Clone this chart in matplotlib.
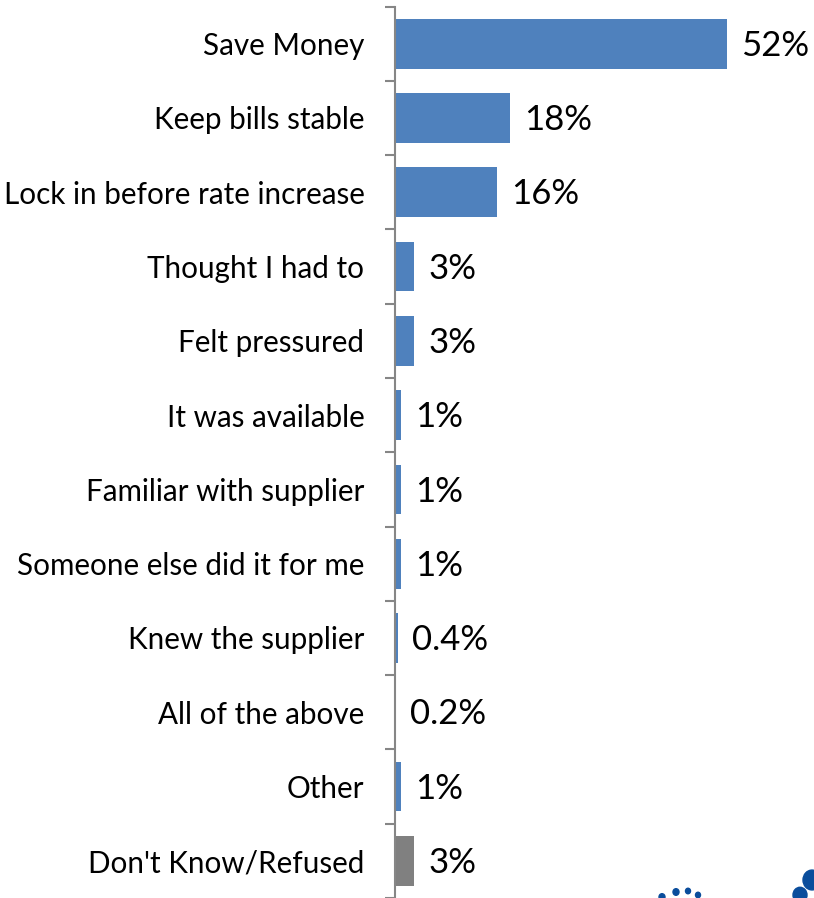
import numpy as np
import matplotlib
matplotlib.use("Agg")
import matplotlib.pyplot as plt
from matplotlib.patches import Circle

categories = [
    "Save Money",
    "Keep bills stable",
    "Lock in before rate increase",
    "Thought I had to",
    "Felt pressured",
    "It was available",
    "Familiar with supplier",
    "Someone else did it for me",
    "Knew the supplier",
    "All of the above",
    "Other",
    "Don't Know/Refused",
]
values = [52, 18, 16, 3, 3, 1, 1, 1, 0.4, 0.2, 1, 3]
labels = ["52%", "18%", "16%", "3%", "3%", "1%", "1%", "1%", "0.4%", "0.2%", "1%", "3%"]
colors = ["#4F81BD"] * 11 + ["#808080"]

plt.rcParams["font.family"] = ["Lato", "DejaVu Sans"]

W, H = 814, 898
fig = plt.figure(figsize=(W / 100, H / 100), dpi=100)
ax_left = 395 / W
ax_top = 1 - 6.5 / H
ax = fig.add_axes([ax_left, 0.0, 1 - ax_left, ax_top])

n = len(categories)
y = np.arange(n)
ax.barh(y, values, height=0.67, color=colors, edgecolor="none")
ax.set_ylim(n - 0.5, -0.5)
ax.set_xlim(0, (W - 395) / 6.38)

for yi, v, lab in zip(y, values, labels):
    ax.text(v + 2.2, yi + 0.03, lab, va="center", ha="left", fontsize=25, color="black")

ax.set_yticks(y)
ax.set_yticklabels(categories, fontsize=21.3)
ax.tick_params(axis="y", which="major", length=0, pad=22)
ax.set_yticks(np.arange(n + 1) - 0.5, minor=True)
ax.tick_params(axis="y", which="minor", length=7, width=1.5, color="#868686")
ax.set_xticks([])

for s in ["top", "right", "bottom"]:
    ax.spines[s].set_visible(False)
ax.spines["left"].set_color("#868686")
ax.spines["left"].set_linewidth(1.5)

# partial logo dots in the bottom-right corner
for cx, cy, r in [(662, 897, 3), (676, 892, 3), (688, 891, 2.5), (698, 895, 2.5),
                  (812, 880, 9), (800, 895, 7)]:
    fig.patches.append(Circle((cx / W, 1 - cy / H), r / W, transform=fig.transFigure,
                              color="#0A4D9C", zorder=5))

fig.savefig("out.png", dpi=100)
